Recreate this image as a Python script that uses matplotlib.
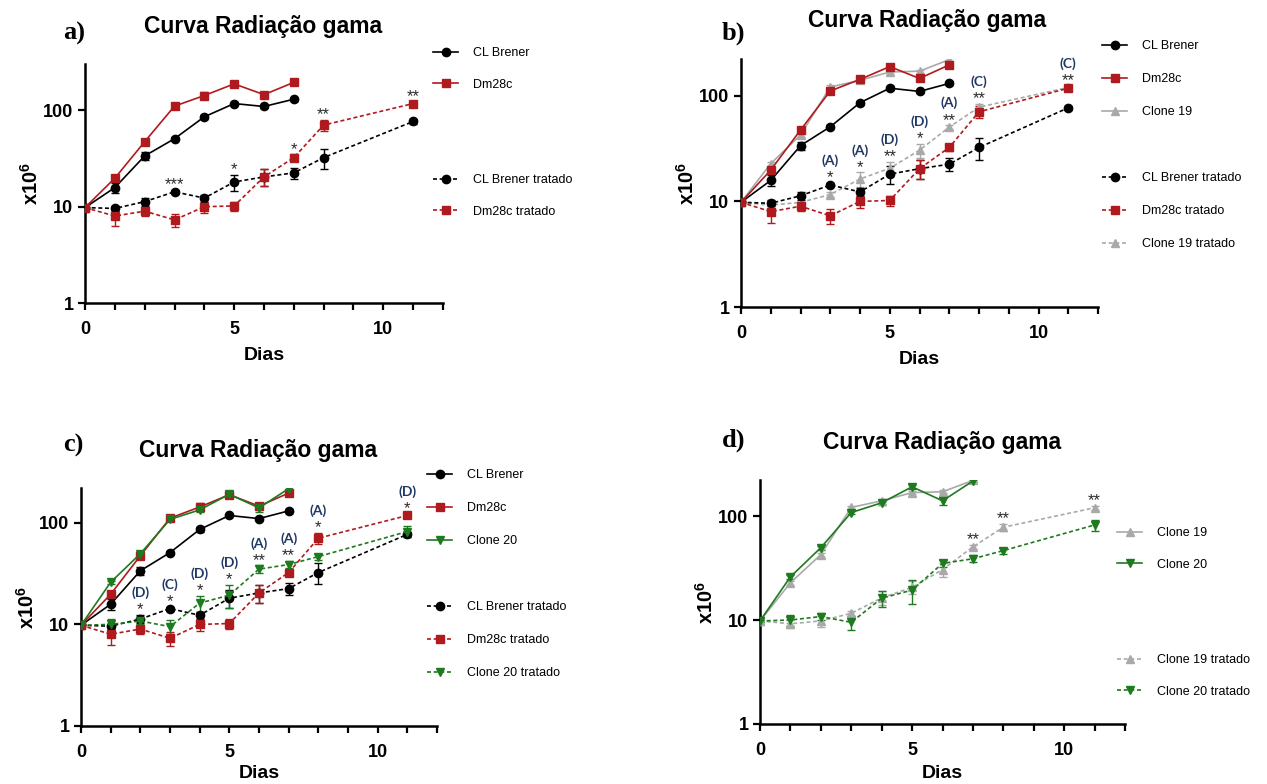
import matplotlib
matplotlib.use('Agg')
import matplotlib.pyplot as plt
from matplotlib.lines import Line2D
from matplotlib.ticker import FixedLocator, NullLocator

plt.rcParams['font.family'] = ['Liberation Sans', 'DejaVu Sans']
plt.rcParams['mathtext.fontset'] = 'custom'
plt.rcParams['mathtext.bf'] = 'Liberation Sans:bold'
plt.rcParams['mathtext.rm'] = 'Liberation Sans'

# ---------------- data ----------------
days = [0, 1, 2, 3, 4, 5, 6, 7]
days_trat = [0, 1, 2, 3, 4, 5, 6, 7, 8, 11]

cl_brener = [9.8, 15.8, 33.7, 50.9, 86, 118, 110, 131]
cl_brener_err = [0.3, 1.8, 3.0, 2.0, 4.0, 5.0, 4.0, 5.0]
dm28c = [9.8, 19.8, 47.4, 111, 143, 189, 146, 196]
dm28c_err = [0.3, 1.5, 3.0, 8.0, 12.0, 10.0, 8.0, 10.0]
clone19 = [9.8, 22.8, 42.5, 121, 140, 168, 171, 220]
clone19_err = [0.3, 1.0, 2.0, 5.0, 5.0, 6.0, 6.0, 6.0]
clone20 = [9.8, 26, 49.6, 108, 134, 191, 140, 217]
clone20_err = [0.3, 1.0, 2.0, 4.0, 5.0, 8.0, 12.0, 6.0]

cl_brener_trat = [9.8, 9.6, 11.3, 14.3, 12.3, 18.1, 20.4, 22.5, 32.4, 76.9]
cl_brener_trat_err = [0.3, 0.6, 1.0, 0.6, 1.0, 3.5, 4.0, 3.0, 7.5, 4.0]
dm28c_trat = [9.8, 8.0, 9.0, 7.3, 10.0, 10.2, 20.4, 32.4, 70.5, 118]
dm28c_trat_err = [0.3, 1.7, 0.9, 1.2, 1.3, 1.1, 4.0, 2.5, 9.0, 5.0]
clone19_trat = [9.8, 9.2, 9.8, 11.6, 16.3, 20.6, 30.5, 50.5, 78, 120]
clone19_trat_err = [0.3, 0.8, 1.2, 0.6, 2.5, 3.0, 4.5, 2.0, 6.0, 5.0]
clone20_trat = [9.8, 10.0, 10.8, 9.5, 16.2, 19.4, 35, 38.8, 46.5, 82]
clone20_trat_err = [0.3, 1.2, 0.8, 1.5, 3.0, 5.0, 3.0, 3.0, 3.0, 10.0]

yticks = [1, 10, 100]
ytick_labels = ['1', '10', '100']
xticks = [0, 5, 10]
xtick_labels = ['0', '5', '10']

title = 'Curva Radiação gama'
xlabel = 'Dias'
ylabel = r'x10$^{\mathbf{6}}$'

# significance annotations per panel: (day, stars, letter)
sig_a = [(3, '***', None), (5, '*', None), (7, '*', None), (8, '**', None), (11, '**', None)]
sig_b = [(3, '*', '(A)'), (4, '*', '(A)'), (5, '**', '(D)'), (6, '*', '(D)'),
         (7, '**', '(A)'), (8, '**', '(C)'), (11, '**', '(C)')]
sig_c = [(2, '*', '(D)'), (3, '*', '(C)'), (4, '*', '(D)'), (5, '*', '(D)'),
         (6, '**', '(A)'), (7, '**', '(A)'), (8, '*', '(A)'), (11, '*', '(D)')]
sig_d = [(7, '**', None), (8, '**', None), (11, '**', None)]

# ---------------- styles ----------------
RED = '#B01A1E'
GRAY = '#A9A9A9'
GREEN = '#1E7A1E'
NAVY = '#1F3864'

SERIES = {
    'cl': dict(name='CL Brener', color='black', marker='o', ms=6,
               y=cl_brener, e=cl_brener_err, yt=cl_brener_trat, et=cl_brener_trat_err),
    'dm': dict(name='Dm28c', color=RED, marker='s', ms=5.8,
               y=dm28c, e=dm28c_err, yt=dm28c_trat, et=dm28c_trat_err),
    'c19': dict(name='Clone 19', color=GRAY, marker='^', ms=6.2,
                y=clone19, e=clone19_err, yt=clone19_trat, et=clone19_trat_err),
    'c20': dict(name='Clone 20', color=GREEN, marker='v', ms=6.2,
                y=clone20, e=clone20_err, yt=clone20_trat, et=clone20_trat_err),
}

W, H = 1267, 784
fig = plt.figure(figsize=(W / 100, H / 100), dpi=100)


def px_axes(l, t, r, b):
    return fig.add_axes([l / W, 1 - b / H, (r - l) / W, (b - t) / H])


def draw(ax, key, dashed):
    s = SERIES[key]
    x = days_trat if dashed else days
    y = s['yt'] if dashed else s['y']
    e = s['et'] if dashed else s['e']
    ls = (0, (2.4, 1.6)) if dashed else '-'
    ax.errorbar(x, y, yerr=e, fmt='none', ecolor=s['color'], elinewidth=1.0,
                capsize=2.6, capthick=1.0, zorder=2)
    line, = ax.plot(x, y, linestyle=ls, lw=1.2, color=s['color'], marker=s['marker'],
                    ms=s['ms'], mec=s['color'], mfc=s['color'], zorder=3,
                    label=s['name'] + (' tratado' if dashed else ''))
    return line


def style_axes(ax, ytop, xpad):
    ax.set_yscale('log')
    ax.set_ylim(1, ytop)
    ax.set_xlim(0, 12)
    ax.yaxis.set_major_locator(FixedLocator(yticks))
    ax.yaxis.set_minor_locator(NullLocator())
    ax.set_yticklabels(ytick_labels)
    ax.set_xticks(xticks)
    ax.set_xticklabels(xtick_labels)
    ax.xaxis.set_minor_locator(FixedLocator(list(range(0, 13))))
    for sp in ['top', 'right']:
        ax.spines[sp].set_visible(False)
    for sp in ['left', 'bottom']:
        ax.spines[sp].set_linewidth(1.8)
    ax.tick_params(axis='both', which='both', direction='out', length=4.8, width=1.6)
    ax.tick_params(axis='x', which='major', pad=8)
    ax.tick_params(axis='y', which='major', pad=3.5)
    for lab in ax.get_xticklabels() + ax.get_yticklabels():
        lab.set_fontweight('bold')
        lab.set_fontsize(13)
    ax.set_xlabel(xlabel, fontsize=14, fontweight='bold', labelpad=xpad)
    ax.set_ylabel(ylabel, fontsize=14.5, fontweight='bold', labelpad=1)


def annotate(ax, keys, sig):
    for (d, star, letter) in sig:
        tops = []
        for k in keys:
            s = SERIES[k]
            i = days_trat.index(d)
            tops.append(s['yt'][i] + s['et'][i])
        top = max(tops)
        ax.annotate(star, xy=(d, top), xytext=(0, 0.5), textcoords='offset points',
                    ha='center', va='baseline', fontsize=12, color='#2a2a2a')
        if letter:
            ax.annotate(letter, xy=(d, top), xytext=(0, 13), textcoords='offset points',
                        ha='center', va='baseline', fontsize=10, color=NAVY,
                        fontweight='bold', family=['Lato', 'DejaVu Sans'])


def blank():
    return Line2D([], [], linestyle='none', label=' ')


def legend(ax, handles, x, y, spacing):
    ax.legend(handles=handles, loc='upper left', bbox_to_anchor=(x / W, 1 - y / H),
              bbox_transform=fig.transFigure, frameon=False, fontsize=9,
              borderpad=0, borderaxespad=0, handlelength=2.0, handletextpad=1.2,
              labelspacing=spacing, numpoints=1)


panels = [
    # (label, bbox px (l,t,r,b), ytop, keys, sig, blanks, legend pos, spacing, title pos, label pos, xlabel pad)
    ('a)', (85, 64, 443, 303), 304, ['cl', 'dm'], sig_a, 2, (433, 47), 1.58, (263, 27), (63, 33), 6.5),
    ('b)', (741, 59, 1098, 307), 223, ['c19', 'cl', 'dm'], sig_b, 1, (1102, 40), 1.68, (927, 20), (722, 33), 6.5),
    ('c)', (81, 488, 437, 726), 220, ['cl', 'dm', 'c20'], sig_c, 1, (427, 469), 1.68, (258, 450), (63, 445), 3.0),
    ('d)', (760, 480, 1125, 724), 222, ['c19', 'c20'], sig_d, 2, (1117, 527), 1.58, (942, 442), (722, 440), 4.5),
]

legend_order = {
    'a)': ['cl', 'dm'],
    'b)': ['cl', 'dm', 'c19'],
    'c)': ['cl', 'dm', 'c20'],
    'd)': ['c19', 'c20'],
}

for (lab, bb, ytop, keys, sig, nblank, legpos, spacing, tpos, lpos, xpad) in panels:
    ax = px_axes(*bb)
    solid, dashed = {}, {}
    for k in keys:
        dashed[k] = draw(ax, k, True)
    for k in keys:
        solid[k] = draw(ax, k, False)
    style_axes(ax, ytop, xpad)
    annotate(ax, keys, sig)
    order = legend_order[lab]
    handles = [solid[k] for k in order] + [blank() for _ in range(nblank)] + [dashed[k] for k in order]
    legend(ax, handles, legpos[0], legpos[1], spacing)
    fig.text(tpos[0] / W, 1 - tpos[1] / H, title, ha='center', va='center',
             fontsize=16.5, fontweight='bold')
    fig.text(lpos[0] / W, 1 - lpos[1] / H, lab, ha='left', va='center',
             fontsize=19, fontweight='bold', family=['Liberation Serif', 'DejaVu Serif'])

fig.savefig('out.png', dpi=100)
